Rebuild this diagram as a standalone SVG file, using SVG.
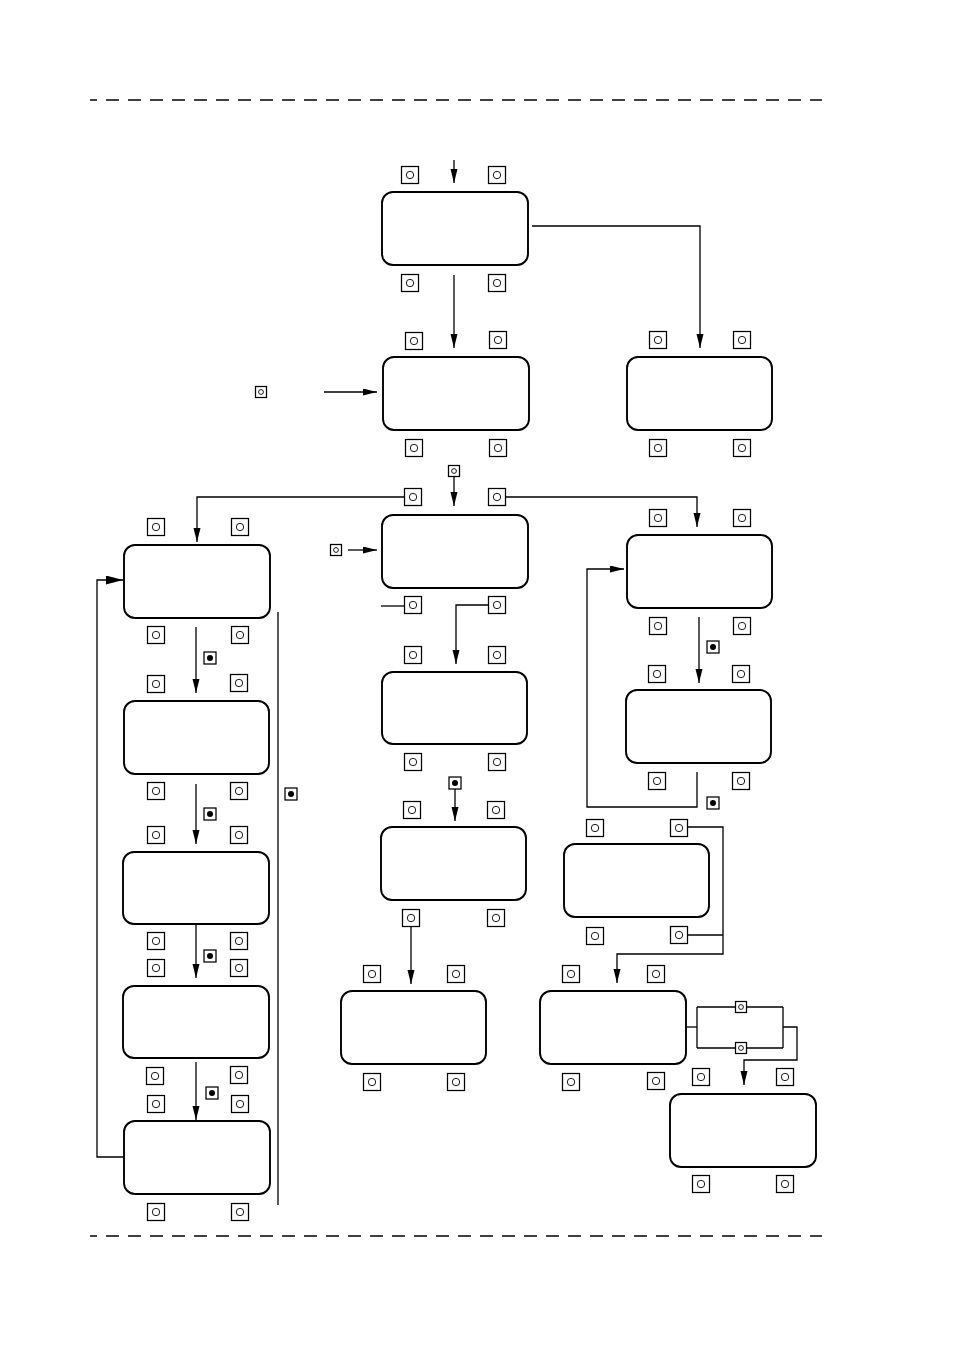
<svg xmlns="http://www.w3.org/2000/svg" xmlns:xlink="http://www.w3.org/1999/xlink" width="954" height="1350" viewBox="0 0 954 1350">
<style>
.box{fill:#fff;stroke:#000;stroke-width:1.9}
.ln{fill:none;stroke:#000;stroke-width:1.3}
.dash{stroke:#000;stroke-width:1.4;stroke-dasharray:13 9;stroke-dashoffset:6}
.br{fill:#fff;stroke:#000;stroke-width:1.25}
</style>
<defs>
<marker id="ah" markerUnits="userSpaceOnUse" markerWidth="15" markerHeight="8" refX="14" refY="3.5" orient="auto"><path d="M0,0 L14,3.5 L0,7 z" fill="#000"/></marker>
<marker id="ahb" markerUnits="userSpaceOnUse" markerWidth="18" markerHeight="10" refX="17" refY="4.5" orient="auto"><path d="M0,0 L17,4.5 L0,9 z" fill="#000"/></marker>
<g id="b"><rect x="-8.5" y="-8.5" width="17" height="17" class="br"/><circle r="3.7" fill="none" stroke="#000" stroke-width="0.9"/></g>
<g id="s"><rect x="-5.5" y="-5.5" width="11" height="11" class="br"/><circle r="2.4" fill="none" stroke="#000" stroke-width="0.9"/></g>
<g id="f"><rect x="-6" y="-6" width="12" height="12" class="br"/><circle r="3" fill="#000"/></g>
</defs>
<rect width="954" height="1350" fill="#fff"/>
<line class="dash" x1="90" y1="100" x2="822" y2="100"/>
<line class="dash" x1="90" y1="1236" x2="822" y2="1236"/>
<g id="connectors" class="ln">
<path d="M454,160 V183" marker-end="url(#ah)"/>
<path d="M454,275 V348" marker-end="url(#ah)"/>
<path d="M532,226 H700 V348" marker-end="url(#ah)"/>
<path d="M324,392 H377" marker-end="url(#ah)"/>
<path d="M454,476 V506" marker-end="url(#ah)"/>
<path d="M404,497 H197 V542" marker-end="url(#ah)"/>
<path d="M506,497 H697 V527" marker-end="url(#ah)"/>
<path d="M348,550 H377" marker-end="url(#ah)"/>
<path d="M381,606 H404"/>
<path d="M488,605 H456 V664" marker-end="url(#ah)"/>
<path d="M455,789 V821" marker-end="url(#ah)"/>
<path d="M411,927 V984" marker-end="url(#ah)"/>
<path d="M196,627 V693" marker-end="url(#ah)"/>
<path d="M196,784 V844" marker-end="url(#ah)"/>
<path d="M196,924 V978" marker-end="url(#ah)"/>
<path d="M196,1062 V1120" marker-end="url(#ah)"/>
<path d="M126,1157 H97 V580 H123" marker-end="url(#ahb)"/>
<path d="M278,612 V1205"/>
<path d="M699,617 V683" marker-end="url(#ah)"/>
<path d="M697,772 V807 H587 V569 H624" marker-end="url(#ah)"/>
<path d="M688,827 H723 V954 H617 V983" marker-end="url(#ah)"/>
<path d="M688,935 H723"/>
<path d="M686,1027 H697"/>
<path d="M697,1007 V1048 M697,1007 H783 M697,1048 H783 M783,1007 V1048"/>
<path d="M783,1027 H797 V1060 H744 V1085" marker-end="url(#ah)"/>
</g>
<g id="nodeA"><rect class="box" x="382" y="192" width="146" height="73" rx="11"/><use href="#b" x="410" y="175"/><use href="#b" x="497" y="175"/><use href="#b" x="410" y="283"/><use href="#b" x="497" y="283"/></g>
<g id="nodeB"><rect class="box" x="383" y="357" width="146" height="73" rx="11"/><use href="#b" x="414" y="341"/><use href="#b" x="498" y="340"/><use href="#b" x="414" y="448"/><use href="#b" x="498" y="448"/></g>
<g id="nodeC"><rect class="box" x="627" y="357" width="145" height="73" rx="11"/><use href="#b" x="658" y="340"/><use href="#b" x="742" y="340"/><use href="#b" x="658" y="448"/><use href="#b" x="742" y="448"/></g>
<g id="nodeD"><rect class="box" x="382" y="515" width="146" height="73" rx="11"/><use href="#b" x="413" y="497"/><use href="#b" x="497" y="497"/><use href="#b" x="413" y="605"/><use href="#b" x="497" y="605"/></g>
<g id="nodeE"><rect class="box" x="124" y="545" width="146" height="73" rx="11"/><use href="#b" x="156" y="527"/><use href="#b" x="240" y="527"/><use href="#b" x="156" y="635"/><use href="#b" x="240" y="635"/></g>
<g id="nodeF"><rect class="box" x="124" y="701" width="145" height="73" rx="11"/><use href="#b" x="156" y="684"/><use href="#b" x="239" y="683"/><use href="#b" x="156" y="791"/><use href="#b" x="239" y="791"/></g>
<g id="nodeG"><rect class="box" x="123" y="852" width="146" height="72" rx="11"/><use href="#b" x="156" y="835"/><use href="#b" x="239" y="835"/><use href="#b" x="156" y="941"/><use href="#b" x="239" y="941"/></g>
<g id="nodeH"><rect class="box" x="123" y="986" width="146" height="72" rx="11"/><use href="#b" x="156" y="968"/><use href="#b" x="239" y="968"/><use href="#b" x="155" y="1076"/><use href="#b" x="239" y="1075"/></g>
<g id="nodeI"><rect class="box" x="124" y="1121" width="146" height="73" rx="11"/><use href="#b" x="156" y="1104"/><use href="#b" x="240" y="1104"/><use href="#b" x="156" y="1212"/><use href="#b" x="240" y="1212"/></g>
<g id="nodeJ"><rect class="box" x="382" y="672" width="145" height="72" rx="11"/><use href="#b" x="413" y="655"/><use href="#b" x="497" y="655"/><use href="#b" x="413" y="762"/><use href="#b" x="497" y="762"/></g>
<g id="nodeK"><rect class="box" x="381" y="827" width="145" height="73" rx="11"/><use href="#b" x="412" y="810"/><use href="#b" x="496" y="810"/><use href="#b" x="411" y="918"/><use href="#b" x="496" y="918"/></g>
<g id="nodeL"><rect class="box" x="341" y="991" width="145" height="73" rx="11"/><use href="#b" x="372" y="974"/><use href="#b" x="456" y="974"/><use href="#b" x="372" y="1082"/><use href="#b" x="456" y="1082"/></g>
<g id="nodeM"><rect class="box" x="627" y="535" width="145" height="73" rx="11"/><use href="#b" x="658" y="518"/><use href="#b" x="742" y="518"/><use href="#b" x="658" y="626"/><use href="#b" x="742" y="626"/></g>
<g id="nodeN"><rect class="box" x="626" y="690" width="145" height="73" rx="11"/><use href="#b" x="657" y="674"/><use href="#b" x="741" y="674"/><use href="#b" x="657" y="781"/><use href="#b" x="741" y="781"/></g>
<g id="nodeO"><rect class="box" x="564" y="844" width="145" height="73" rx="11"/><use href="#b" x="595" y="828"/><use href="#b" x="679" y="828"/><use href="#b" x="595" y="936"/><use href="#b" x="679" y="935"/></g>
<g id="nodeP"><rect class="box" x="540" y="991" width="146" height="73" rx="11"/><use href="#b" x="571" y="974"/><use href="#b" x="656" y="974"/><use href="#b" x="571" y="1082"/><use href="#b" x="656" y="1081"/></g>
<g id="nodeQ"><rect class="box" x="670" y="1094" width="146" height="73" rx="11"/><use href="#b" x="701" y="1077"/><use href="#b" x="785" y="1077"/><use href="#b" x="701" y="1184"/><use href="#b" x="785" y="1184"/></g>
<g id="keys">
<use href="#s" x="261" y="392"/><use href="#s" x="454" y="471"/><use href="#s" x="336" y="550"/><use href="#s" x="741" y="1007"/><use href="#s" x="741" y="1048"/>
<use href="#f" x="210" y="658"/><use href="#f" x="210" y="814"/><use href="#f" x="210" y="956"/><use href="#f" x="212" y="1093"/><use href="#f" x="455" y="783"/><use href="#f" x="713" y="647"/><use href="#f" x="713" y="803"/><use href="#f" x="291" y="794"/>
</g>
</svg>
